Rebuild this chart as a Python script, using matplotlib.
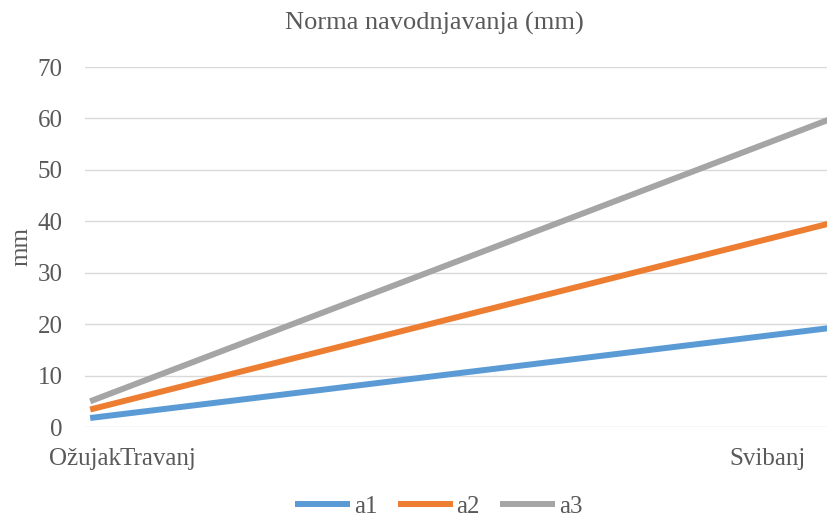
import matplotlib
matplotlib.use("Agg")
import matplotlib.pyplot as plt

# data
x_days = [0, 1]
a1 = [1.75, 19.2]
a2 = [3.4, 39.5]
a3 = [5.0, 59.7]
month_labels = ["Ožujak", "Travanj", "Svibanj"]
month_pos = [-0.007, 0.092, 0.918]

plt.rcParams['font.family'] = ['Liberation Serif', 'DejaVu Serif']

fig = plt.figure(figsize=(8.28, 5.17), dpi=100)
ax = fig.add_axes([85 / 828, 90 / 517, 743 / 828, 360 / 517])

ax.plot(x_days, a1, color='#5B9BD5', lw=4.3, label='a1', solid_capstyle='butt')
ax.plot(x_days, a2, color='#ED7D31', lw=4.3, label='a2', solid_capstyle='butt')
ax.plot(x_days, a3, color='#A5A5A5', lw=4.3, label='a3', solid_capstyle='butt')

ax.set_xlim(0, 1)
ax.set_ylim(0, 70)
ax.set_yticks(range(0, 71, 10))
ax.set_xticks(month_pos)
ax.set_xticklabels(month_labels)
ax.grid(axis='y', color='#D9D9D9', lw=1)
ax.set_axisbelow(True)
for s in ax.spines.values():
    s.set_visible(False)
ax.tick_params(axis='both', length=0, labelsize=18, colors='#595959')
ax.tick_params(axis='y', pad=16)
ax.tick_params(axis='x', pad=15)

ax.set_ylabel('mm', fontsize=18, color='#595959', labelpad=4)
fig.text(0.525, 0.955, 'Norma navodnjavanja (mm)', ha='center', va='center',
         fontsize=19, color='#595959')

fig.legend(loc='center', bbox_to_anchor=(0.53, 0.02), ncol=3, frameon=False,
           fontsize=18, handlelength=2.2, handletextpad=0.15, columnspacing=0.8,
           labelcolor='#595959')

fig.savefig('out.png', dpi=100)
